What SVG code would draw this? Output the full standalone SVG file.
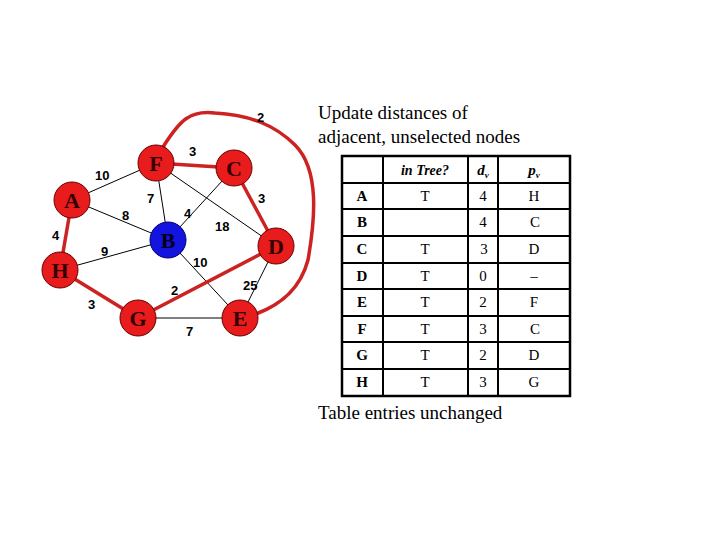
<svg xmlns="http://www.w3.org/2000/svg" width="720" height="540" viewBox="0 0 720 540">
<style>
.t{stroke:#000;stroke-width:1}
.r{stroke:#cc2222;stroke-width:3.5;fill:none}
.n circle{fill:#e81c1c;stroke:#600;stroke-width:1}
.n text{font-family:"Liberation Serif",serif;font-size:22px;font-weight:bold;text-anchor:middle;fill:#300}
.w{font-family:"Liberation Sans",sans-serif;font-size:13px;font-weight:bold}
.c{font-family:"Liberation Serif",serif;font-size:15px;text-anchor:middle}
.g line{stroke:#000;stroke-width:2}
</style>
<rect width="720" height="540" fill="#fff"/>
<g id="connectors">
<line class="t" x1="72" y1="200" x2="156" y2="163"/>
<line class="t" x1="72" y1="200" x2="168" y2="240"/>
<line class="t" x1="156" y1="163" x2="168" y2="240"/>
<line class="t" x1="156" y1="163" x2="276" y2="246"/>
<line class="t" x1="234" y1="168" x2="168" y2="240"/>
<line class="t" x1="60" y1="270" x2="168" y2="240"/>
<line class="t" x1="168" y1="240" x2="240" y2="318"/>
<line class="t" x1="276" y1="246" x2="240" y2="318"/>
<line class="t" x1="138" y1="318" x2="240" y2="318"/>
<line class="r" x1="156" y1="163" x2="234" y2="168"/>
<line class="r" x1="234" y1="168" x2="276" y2="246"/>
<line class="r" x1="72" y1="200" x2="60" y2="270"/>
<line class="r" x1="60" y1="270" x2="138" y2="318"/>
<line class="r" x1="138" y1="318" x2="276" y2="246"/>
<path class="r" d="M163,147 C180,120 190,110 215,113 C250,115 275,125 295,145 C320,170 315,220 308,260 C300,290 280,305 256,314"/>
</g>
<g class="w">
<text x="257" y="122">2</text><text x="189" y="156">3</text><text x="95" y="180">10</text>
<text x="147" y="203">7</text><text x="258" y="203">3</text><text x="122" y="220">8</text>
<text x="184" y="218">4</text><text x="215" y="231">18</text><text x="52" y="240">4</text>
<text x="101" y="256">9</text><text x="193" y="267">10</text><text x="243" y="290">25</text>
<text x="171" y="295">2</text><text x="88" y="309">3</text><text x="186" y="336">7</text>
</g>
<g id="F" class="n"><circle cx="156" cy="163" r="18"/><text x="156" y="171">F</text></g>
<g id="C" class="n"><circle cx="234" cy="168" r="18"/><text x="234" y="176">C</text></g>
<g id="A" class="n"><circle cx="72" cy="200" r="18"/><text x="72" y="208">A</text></g>
<g id="B" class="n"><circle cx="168" cy="240" r="18" style="fill:#1414e0;stroke:#006"/><text x="168" y="248" style="fill:#001">B</text></g>
<g id="D" class="n"><circle cx="276" cy="246" r="18"/><text x="276" y="254">D</text></g>
<g id="H" class="n"><circle cx="60" cy="270" r="18"/><text x="60" y="278">H</text></g>
<g id="G" class="n"><circle cx="138" cy="318" r="18"/><text x="138" y="326">G</text></g>
<g id="E" class="n"><circle cx="240" cy="318" r="18"/><text x="240" y="326">E</text></g>
<text x="318" y="119" font-family="Liberation Serif,serif" font-size="19">Update distances of</text>
<text x="318" y="143" font-family="Liberation Serif,serif" font-size="19">adjacent, unselected nodes</text>
<text x="318" y="419" font-family="Liberation Serif,serif" font-size="19">Table entries unchanged</text>
<g id="table" class="g">
<rect x="342" y="156" width="228" height="240" fill="#fff" stroke="#000" stroke-width="2.5"/>
<line x1="383" y1="156" x2="383" y2="396"/><line x1="468" y1="156" x2="468" y2="396"/><line x1="498" y1="156" x2="498" y2="396"/>
<line x1="342" y1="183" x2="570" y2="183"/><line x1="342" y1="209" x2="570" y2="209"/><line x1="342" y1="236" x2="570" y2="236"/>
<line x1="342" y1="263" x2="570" y2="263"/><line x1="342" y1="289" x2="570" y2="289"/><line x1="342" y1="316" x2="570" y2="316"/>
<line x1="342" y1="342" x2="570" y2="342"/><line x1="342" y1="369" x2="570" y2="369"/>
</g>
<g class="c">
<text x="425" y="175" font-style="italic" font-weight="bold" font-size="14">in Tree?</text>
<text x="483" y="175" font-style="italic" font-weight="bold">d<tspan font-size="9" dy="3">v</tspan></text>
<text x="534" y="175" font-style="italic" font-weight="bold">p<tspan font-size="9" dy="3">v</tspan></text>
<g font-weight="bold"><text x="362" y="201">A</text><text x="362" y="227">B</text><text x="362" y="254">C</text><text x="362" y="281">D</text><text x="362" y="307">E</text><text x="362" y="334">F</text><text x="362" y="360">G</text><text x="362" y="387">H</text></g>
<text x="425" y="201">T</text><text x="425" y="254">T</text><text x="425" y="281">T</text><text x="425" y="307">T</text><text x="425" y="334">T</text><text x="425" y="360">T</text><text x="425" y="387">T</text>
<text x="483" y="201">4</text><text x="483" y="227">4</text><text x="484" y="254">3</text><text x="483" y="281">0</text><text x="483" y="307">2</text><text x="483" y="334">3</text><text x="483" y="360">2</text><text x="483" y="387">3</text>
<text x="534" y="201">H</text><text x="535" y="227">C</text><text x="534" y="254">D</text><text x="534" y="281">–</text><text x="534" y="307">F</text><text x="535" y="334">C</text><text x="534" y="360">D</text><text x="534" y="387">G</text>
</g>
</svg>
